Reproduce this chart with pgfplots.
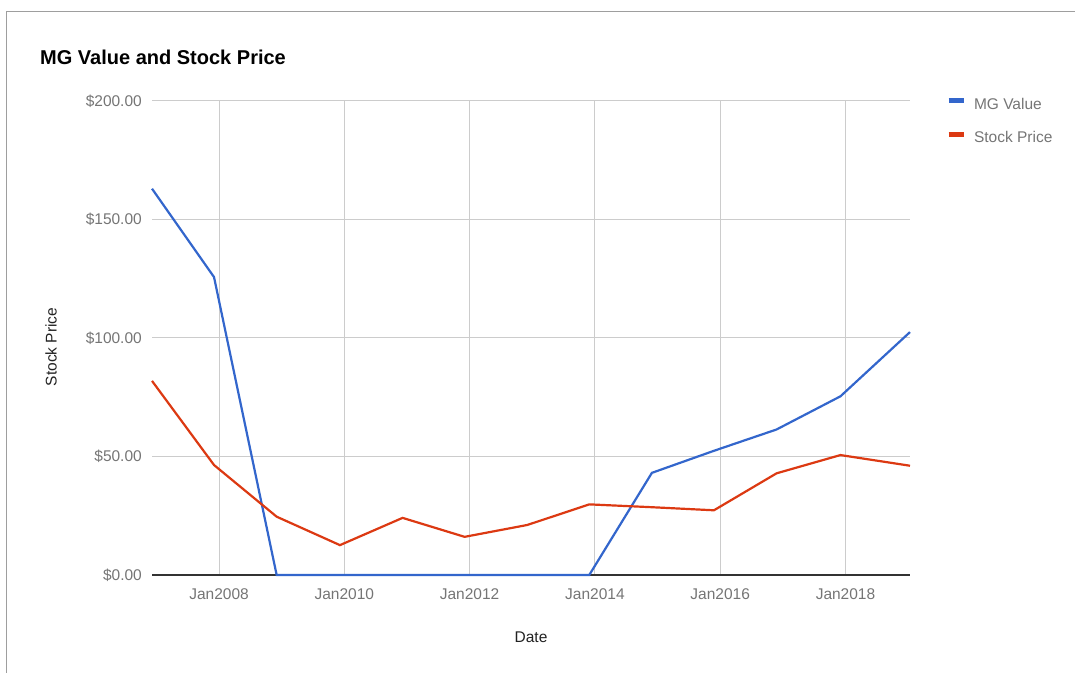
\documentclass[border=0pt]{standalone}
\usepackage{fontspec}
\setmainfont{Liberation Sans}
\usepackage{pgfplots}
\pgfplotsset{compat=1.18}
\definecolor{mgblue}{HTML}{3366CC}
\definecolor{spred}{HTML}{DC3912}
\definecolor{gridgray}{HTML}{CCCCCC}
\definecolor{labelgray}{HTML}{757575}
\definecolor{axisdark}{HTML}{333333}
\definecolor{framegray}{HTML}{9E9E9E}
\definecolor{textdark}{HTML}{222222}
\begin{document}
\begin{tikzpicture}[x=1bp,y=1bp]
\path[use as bounding box] (0,0) rectangle (1075,673);
\draw[framegray, line width=1.5bp] (6.5,0) -- (6.5,661.5) -- (1075,661.5);
\node[anchor=west, inner sep=0pt, font=\fontsize{20bp}{24bp}\selectfont\bfseries] at (40,616) {MG Value and Stock Price};
\node[rotate=90, inner sep=0pt, text=textdark, font=\fontsize{15.5bp}{18bp}\selectfont] at (51,326) {Stock Price};
\node[inner sep=0pt, text=textdark, font=\fontsize{15.5bp}{18bp}\selectfont] at (531,36) {Date};
\begin{axis}[
  at={(152bp,98bp)}, anchor=south west,
  scale only axis, width=758bp, height=474bp,
  xmin=2006.93, xmax=2019.03, ymin=0, ymax=200,
  clip=false,
  axis line style={draw=none},
  xtick={2008,2010,2012,2014,2016,2018},
  xticklabels={Jan2008,Jan2010,Jan2012,Jan2014,Jan2016,Jan2018},
  ytick={0,50,100,150,200},
  yticklabels={\$0.00,\$50.00,\$100.00,\$150.00,\$200.00},
  xmajorgrids, ymajorgrids,
  grid style={color=gridgray, line width=1bp},
  major tick length=0pt,
  /pgf/number format/assume math mode=true,
  tick label style={text=labelgray, font=\fontsize{15.5bp}{18bp}\selectfont, inner sep=0pt},
  yticklabel style={xshift=-10bp},
  xticklabel style={yshift=-13bp},
  legend style={at={(1.0475,1.0063)}, anchor=north west, draw=none, fill=none,
    inner sep=0pt, outer sep=0pt, row sep=19bp, column sep=8bp,
    font=\fontsize{15.5bp}{18bp}\selectfont, text=labelgray,
    nodes={inner sep=0pt, text height=11bp, text depth=3bp}},
  legend cell align=left,
  legend image code/.code={\draw[#1, line width=5bp] (0bp,4bp) -- (15bp,4bp);},
]
\draw[axisdark, line width=1.2bp] (axis cs:2006.93,0) -- (axis cs:2019.03,0);
\addplot[mgblue, line width=2.2bp] coordinates {
(2006.93,163.0) (2007.92,125.7) (2008.92,0) (2009.93,0) (2010.93,0) (2011.92,0) (2012.92,0) (2013.91,0) (2014.91,43.1) (2015.90,52.4) (2016.90,61.4) (2017.92,75.4) (2019.03,102.5)
};
\addlegendentry{MG Value}
\addplot[spred, line width=2.2bp] coordinates {
(2006.93,81.9) (2007.92,46.4) (2008.92,24.6) (2009.93,12.6) (2010.93,24.1) (2011.92,16.1) (2012.92,21.1) (2013.91,29.8) (2014.91,28.6) (2015.90,27.3) (2016.90,42.9) (2017.92,50.6) (2019.03,46.1)
};
\addlegendentry{Stock Price}
\end{axis}
\end{tikzpicture}
\end{document}
